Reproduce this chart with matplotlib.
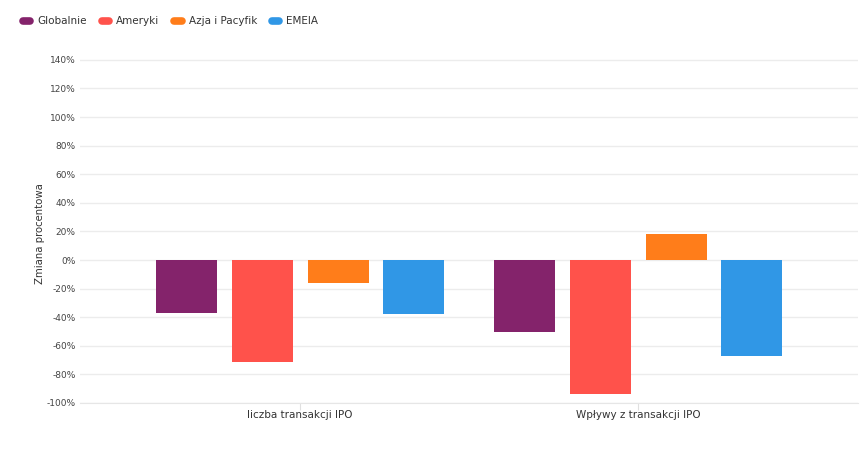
import matplotlib
matplotlib.use('Agg')
import matplotlib.pyplot as plt
from matplotlib.lines import Line2D
import numpy as np

# data
categories = ['liczba transakcji IPO', 'Wpływy z transakcji IPO']
series = ['Globalnie', 'Ameryki', 'Azja i Pacyfik', 'EMEIA']
globalnie = [-37, -50]
ameryki = [-71, -94]
azja = [-16, 18]
emeia = [-38, -67]
yticks = [-100, -80, -60, -40, -20, 0, 20, 40, 60, 80, 100, 120, 140]

COLORS = ['#84236b', '#ff524b', '#ff7d1a', '#3097e6']
TXT = '#444444'
GRID = '#ececec'

plt.rcParams['font.family'] = ['DejaVu Sans']

fig = plt.figure(figsize=(8.6, 4.53), dpi=100)
ax = fig.add_axes([80/860, 1 - 403/453, 778/860, (403 - 57)/453])

x = np.arange(len(categories))
width = 0.18
offsets = [-0.336, -0.112, 0.113, 0.337]
for vals, off, c, name in zip([globalnie, ameryki, azja, emeia], offsets, COLORS, series):
    ax.bar(x + off, vals, width, color=c, label=name, zorder=3)

ax.set_xlim(-0.651, 1.651)
ax.set_ylim(-100, 142)
ax.set_yticks(yticks)
ax.set_yticklabels([f'{v}%' for v in yticks], fontsize=6.5, color=TXT)
ax.yaxis.grid(True, color=GRID, linewidth=1, zorder=0)
ax.tick_params(axis='y', length=0, pad=3)
ax.set_xticks(x)
ax.set_xticklabels(categories, fontsize=7.5, color='#333333')
ax.tick_params(axis='x', length=5, color='#e0e0e0', pad=0)
for s in ['top', 'right', 'left']:
    ax.spines[s].set_visible(False)
ax.spines['bottom'].set_color('#e6e6e6')
ax.set_ylabel('Zmiana procentowa', fontsize=7.3, color='#333333')
ax.yaxis.set_label_coords(-35/778, 0.491)

handles = [Line2D([0], [0], color=c, lw=5.5, solid_capstyle='round') for c in COLORS]
fig.legend(handles, series, loc='upper left', bbox_to_anchor=(0.016, 0.985),
           ncol=4, frameon=False, fontsize=7.5, handlelength=0.7,
           handletextpad=0.7, columnspacing=1.4, labelcolor='#333333')

plt.savefig('out.png', dpi=100, facecolor='white')
